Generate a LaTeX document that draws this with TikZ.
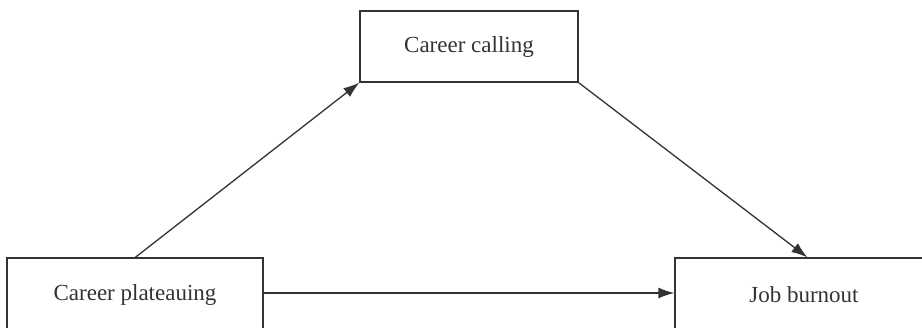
\documentclass[tikz,border=0pt]{standalone}
\usepackage{fontspec}
\setmainfont{Liberation Serif}
\usetikzlibrary{arrows.meta,calc}
\definecolor{ink}{HTML}{333333}
\tikzset{
  box/.style={draw=ink, line width=1.3pt, rectangle, inner sep=0pt, text=ink,
    font=\fontsize{23}{26}\selectfont},
  conn/.style={draw=ink, line width=1.3pt, -{Latex[length=16pt,width=11pt]}}
}
\begin{document}
\begin{tikzpicture}[x=1pt,y=-1pt]
\useasboundingbox (0,0) rectangle (922,327);
\clip (0,0) rectangle (922,327);
\node[box, minimum width=218pt, minimum height=71pt] (call) at (469,46.5) {Career calling};
\node[box, minimum width=256pt, minimum height=74pt] (plat) at (135,295) {Career plateauing};
\node[box, minimum width=258pt, minimum height=74pt] (burn) at (804,295) {Job burnout};
\coordinate (pstart) at ([xshift=129pt]plat.north west);
\coordinate (bend) at ([xshift=133pt]burn.north west);
\coordinate (pmid) at ([yshift=2pt]plat.east);
\coordinate (bmid) at ([yshift=2pt]burn.west);
\draw[conn] (pstart) -- (call.south west);
\draw[conn] (call.south east) -- (bend);
\draw[conn] (pmid) -- (bmid);
\end{tikzpicture}
\end{document}
